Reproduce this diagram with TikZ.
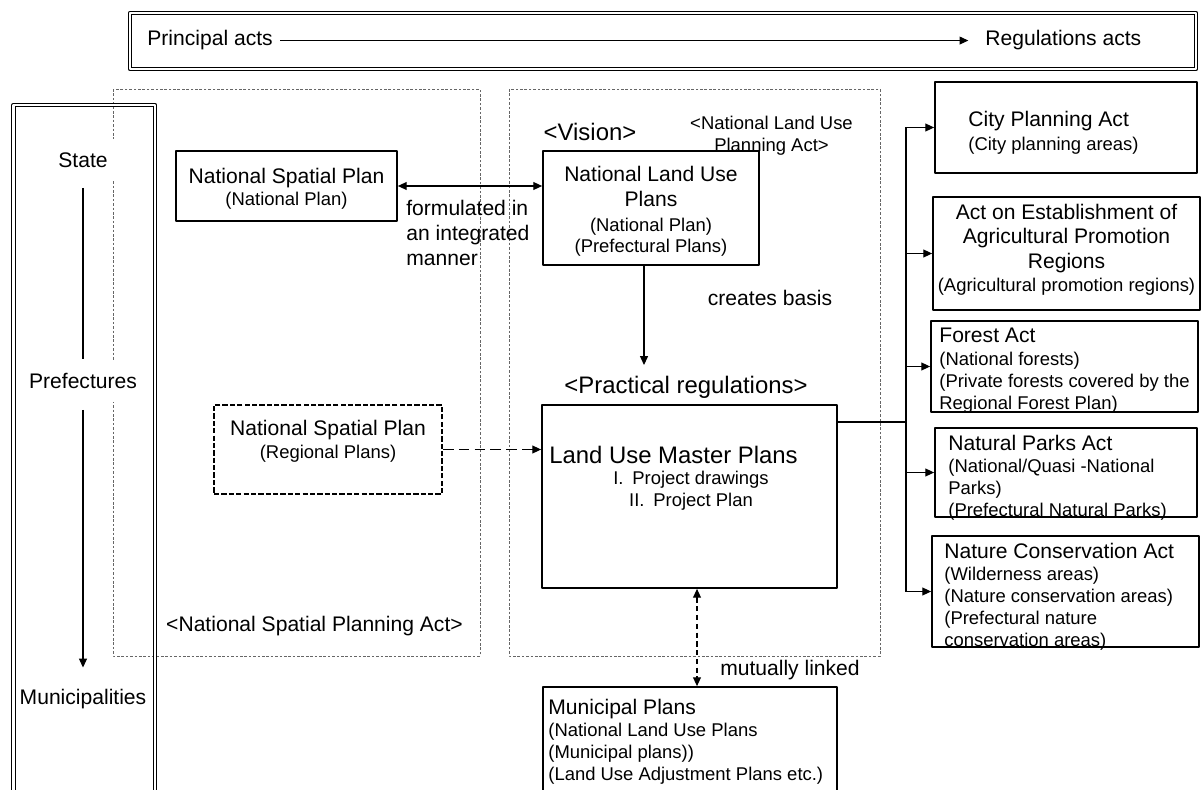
\documentclass[tikz,border=0pt]{standalone}
\usepackage{fontspec}
\setmainfont{Liberation Sans}
\usetikzlibrary{arrows.meta,fit}
\newcommand{\ttl}{\fontsize{12}{14}\selectfont}
\newcommand{\subsz}{\fontsize{10.5}{12.5}\selectfont}
\newcommand{\hdsz}{\fontsize{13.6}{16}\selectfont}
\begin{document}
\begin{tikzpicture}[x=0.02cm, y=-0.02cm, line join=round,
    >={Triangle[length=5pt,width=4.5pt]},
    box/.style={draw, line width=1pt, fill=white, inner sep=0pt},
    regbox/.style={box, line width=1.1pt, dash pattern=on 3pt off 1.2pt},
    boxtxt/.style={inner sep=0pt, font=\subsz, align=left, anchor=north west},
    boxtxtc/.style={inner sep=0pt, font=\subsz, align=center, anchor=north},
    actarea/.style={draw=black!60, line width=0.5pt, dash pattern=on 1.5pt off 1pt},
    dbframe/.style={draw, double, double distance=1.2pt, line width=0.7pt},
    tier/.style={fill=white, inner sep=1pt, minimum height=0.86cm, minimum width=2.2cm, font=\ttl},
    lbl/.style={inner sep=0pt, font=\ttl},
    conn/.style={line width=0.6pt}]
    \useasboundingbox (0,0) rectangle (1202,790);
    \clip (0,0) rectangle (1202,790);

    % Vùng của hai luật (khung chấm)
    \draw[actarea] (113,89) rectangle (480,656);
    \draw[actarea] (509,89) rectangle (880,656);

    % Dải tiêu đề phía trên
    \node[dbframe, inner sep=0pt, fit={(130,13) (1196,69)}] (banner) {};
    \node[lbl, anchor=base west] (principal) at (147,46) {Principal acts};
    \node[lbl, anchor=base west] (regs) at (985,46) {Regulations acts};
    \draw[conn,->, shorten <=4pt, shorten >=9.5pt] (principal.east) -- (regs.west);

    % Cột các cấp
    \draw[dbframe] (13.5,105) rectangle (155,800);
    \node[tier] (state) at (83,160) {State};
    \node[tier] (pref) at (83,381) {Prefectures};
    \node[tier] (muni) at (83,699) {Municipalities};
    \draw[conn, shorten <=3.5pt] (state) -- (pref);
    \draw[conn,->, shorten <=4pt, shorten >=5.5pt] (pref) -- (muni);

    % Các nhãn chữ
    \node[lbl, font=\subsz, align=center] (nluact) at (771.5,136) {<National Land Use\\Planning Act>};
    \node[lbl, font=\hdsz] (vision) at (590,132) {<Vision>};
    \node[lbl, font=\hdsz] (practical) at (686,387) {<Practical regulations>};
    \node[lbl] (spatialact) at (314.5,626) {<National Spatial Planning Act>};
    \node[lbl, align=left, anchor=west] (integr) at (406,233) {formulated in\\an integrated\\manner};
    \node[lbl] (creates) at (770,298) {creates basis};
    \node[lbl] (mutual) at (790,670) {mutually linked};

    % Các khung kế hoạch
    \node[box, fit={(176,151) (397,221)}] (nsp) {};
    \node[boxtxtc] (nsptxt) at (286.5,167.5) {{\ttl National Spatial Plan}\\[0.5pt](National Plan)};
    \node[box, fit={(543,151) (759,265)}] (nlu) {};
    \node[boxtxtc] (nlutxt) at (651,165.5) {{\ttl National Land Use}\\[1.7pt]{\ttl Plans}\\[1.7pt](National Plan)\\[-0.5pt](Prefectural Plans)};
    \node[regbox, fit={(214,405) (442,494)}] (nspreg) {};
    \node[lbl, align=center] (nspregtxt) at (328,441) {National Spatial Plan\\[-1pt]{\subsz (Regional Plans)}};
    \node[box, fit={(542,405) (837,588)}] (lump) {};
    \node[lbl, font=\hdsz, anchor=west] (lumptitle) at (549,455) {Land Use Master Plans};
    \node[lbl, font=\subsz, align=center] (lumplist) at (691,491) {I.\hspace{5pt}Project drawings\\II.\hspace{5pt}Project Plan};
    \node[box, fit={(543,687) (837,800)}] (mplan) {};
    \node[boxtxt] (mplantxt) at (548,698.5) {{\ttl Municipal Plans}\\(National Land Use Plans\\(Municipal plans))\\(Land Use Adjustment Plans etc.)};

    % Các luật chuyên ngành
    \node[box, fit={(935,82) (1197,173)}] (city) {};
    \node[boxtxt] (citytxt) at (968,110.5) {{\ttl City Planning Act}\\[1.5pt](City planning areas)};
    \node[box, fit={(933,197) (1200,310)}] (agri) {};
    \node[boxtxtc] (agritxt) at (1066.5,203.5) {{\ttl Act on Establishment of}\\[1.5pt]{\ttl Agricultural Promotion}\\[1.5pt]{\ttl Regions}\\[0.5pt](Agricultural promotion regions)};
    \node[box, fit={(931,321) (1198,412)}] (forest) {};
    \node[boxtxt] (foresttxt) at (939,327.5) {{\ttl Forest Act}\\[0.5pt](National forests)\\(Private forests covered by the\\Regional Forest Plan)};
    \node[box, fit={(935,428) (1197,517)}] (np) {};
    \node[boxtxt] (nptxt) at (948,434.5) {{\ttl Natural Parks Act}\\[0.5pt](National/Quasi -National\\Parks)\\(Prefectural Natural Parks)};
    \node[box, fit={(932,536) (1199,647)}] (nc) {};
    \node[boxtxt] (nctxt) at (944,542.5) {{\ttl Nature Conservation Act}\\[0.5pt](Wilderness areas)\\(Nature conservation areas)\\(Prefectural nature\\conservation areas)};

    % Mũi tên nối
    \coordinate (basis) at (644,365);
    \coordinate (linkx) at (697,620);
    \coordinate (spine) at (906,422);
    \draw[conn,<->] (nsp.east) -- (nsp.east -| nlu.west);
    \draw[conn,->] (nlu.south -| basis) -- (basis);
    \draw[conn,->, dash pattern=on 6pt off 3pt] (nspreg.east) -- (nspreg.east -| lump.west);
    \draw[conn,<->, dash pattern=on 3pt off 2pt] (lump.south -| linkx) -- (mplan.north -| linkx);
    \draw[conn] (lump.east |- spine) -- (spine);
    \draw[conn] (city.west -| spine) -- (nc.west -| spine);
    \foreach \act in {city,agri,forest,np,nc}
        \draw[conn,->] (\act.west -| spine) -- (\act.west);
\end{tikzpicture}
\end{document}
